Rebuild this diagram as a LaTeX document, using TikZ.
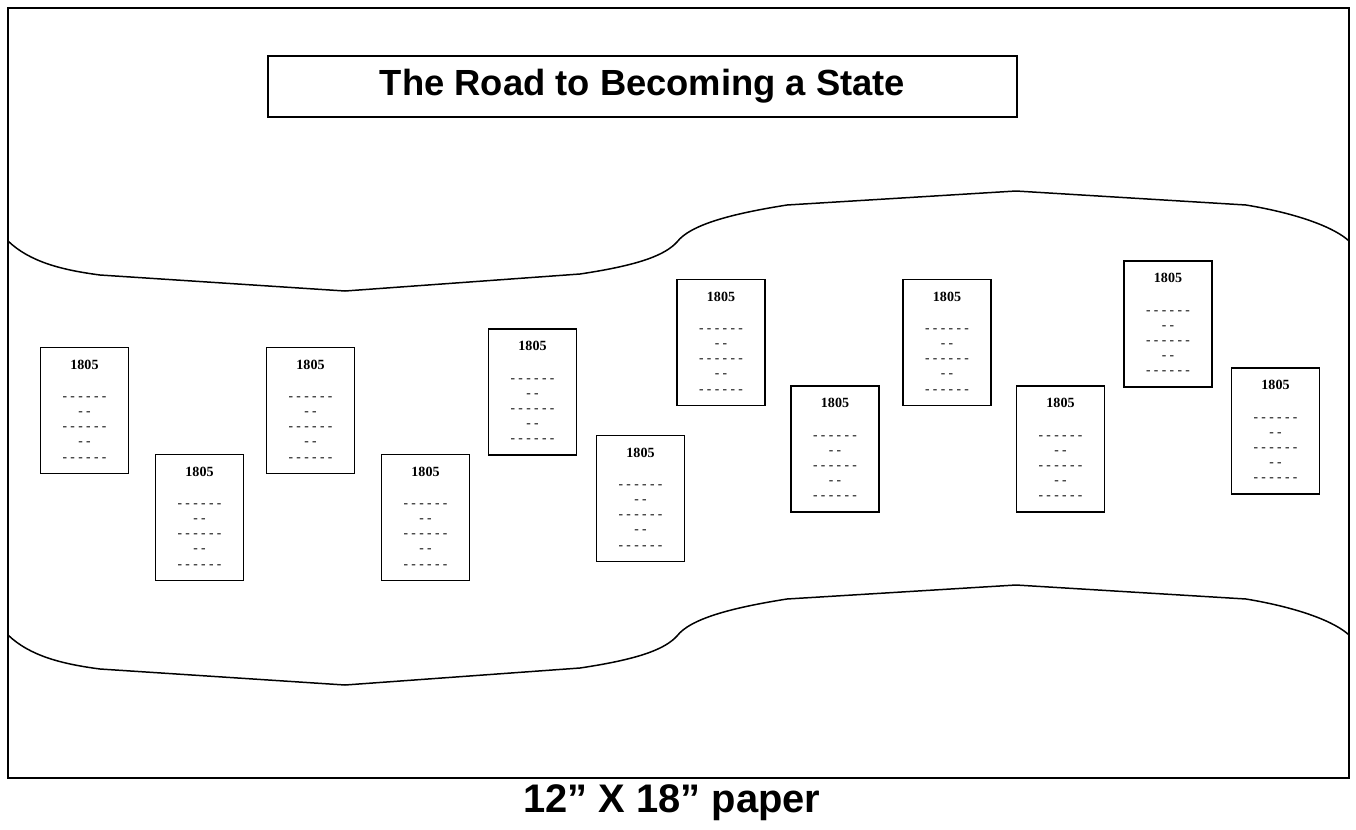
\documentclass[tikz,border=0pt]{standalone}
\usepackage{fontspec}
\setmainfont{Liberation Serif}
\newfontfamily\arialfont{Liberation Sans}
\usepackage{tikz}
\newcommand{\fsTitle}{\fontsize{20.7}{24}\selectfont\arialfont\bfseries}
\newcommand{\fsFoot}{\fontsize{22.7}{26}\selectfont\arialfont\bfseries}
\newcommand{\fsYear}{\fontsize{8}{9}\selectfont\bfseries}
\newcommand{\fsDash}{\fontsize{7.7}{8.6}\selectfont}
\newcommand{\dSix}{- - - - - -}
\newcommand{\dTwo}{- -}
\tikzset{
  card/.style={draw, line width=1.1pt, minimum width=1.76cm, minimum height=2.52cm,
    inner sep=0pt, align=center, font=\fsDash},
  road/.style={line width=0.85pt}
}

\begin{document}
\begin{tikzpicture}[x=0.02cm, y=-0.02cm]
  \useasboundingbox (0,0) rectangle (1356,829);
  \draw[line width=1.1pt] (8,8) rectangle (1349,778);

  \node[draw, line width=0.85pt, minimum width=14.98cm, minimum height=1.22cm, font=\fsTitle]
    (title) at (642.5,86.5) {The Road to Becoming a State};

  % both edges of the road
  \foreach \dy in {0,394}{
    \draw[road, shift={(0,\dy)}] (8,241) .. controls (30,262) and (62,270) .. (100,275)
      -- (345,291) -- (580,274) .. controls (640,265) and (665,255) .. (677,242)
      .. controls (690,225) and (730,214) .. (787,205) -- (1016,191) -- (1246,205)
      .. controls (1300,214) and (1335,228) .. (1349,241);
  }

  % cards: centre x / centre y
  \foreach \cx/\cy [count=\i] in {84.5/410.5, 199.5/517.5, 310.5/410.5, 425.5/517.5,
      532.5/392, 640.5/498.5, 721/342.5, 835/449, 947/342.5, 1060.5/449,
      1168/324, 1275.5/431}{
    \node[card] (card\i) at (\cx,\cy) {{\fsYear 1805}\\[9.2pt]\dSix\\\dTwo\\\dSix\\\dTwo\\\dSix};
  }

  \node[font=\fsFoot, anchor=base] (paper) at (672,812) {12” X 18” paper};
\end{tikzpicture}
\end{document}
